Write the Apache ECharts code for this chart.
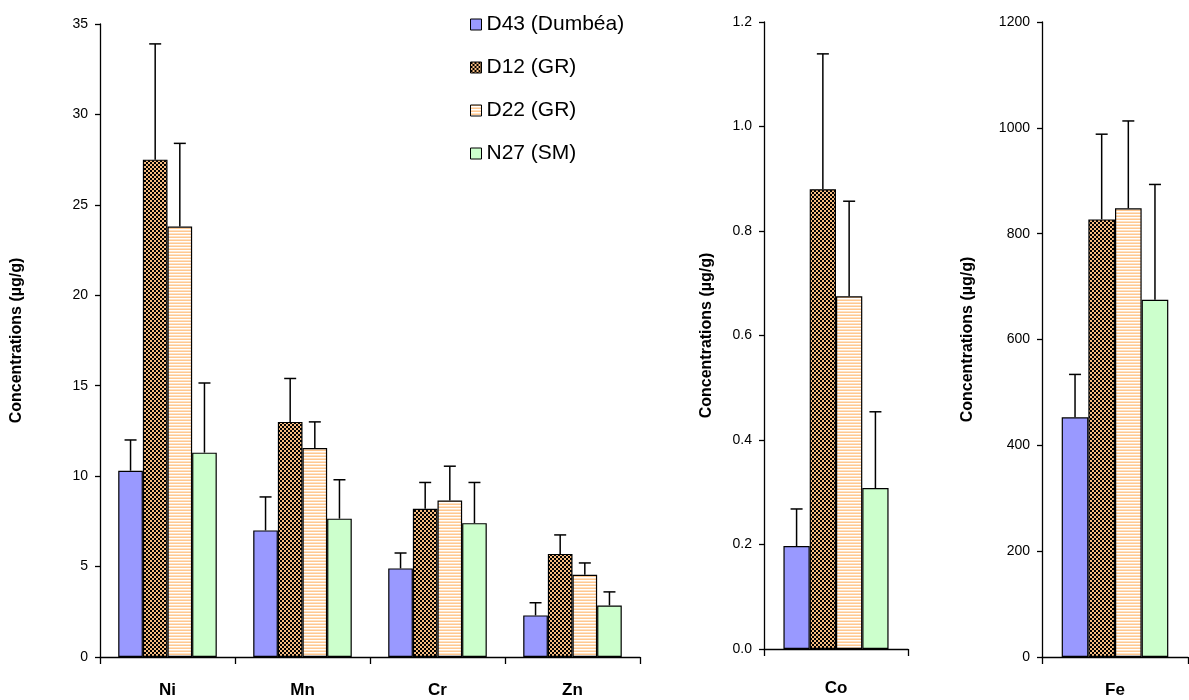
<!DOCTYPE html>
<html><head><meta charset="utf-8">
<script src="https://cdn.jsdelivr.net/npm/echarts@6/dist/echarts.min.js"></script>
<style>html,body{margin:0;padding:0;background:#fff}#c{width:1189px;height:700px}</style>
</head><body><div id="c"></div>
<script>
// ---- data ----
const elements = ['Ni', 'Mn', 'Cr', 'Zn', 'Co', 'Fe'];
const sampleNames = ['D43 (Dumbéa)', 'D12 (GR)', 'D22 (GR)', 'N27 (SM)'];
const d43 = [10.3, 7.0, 4.9, 2.3, 0.197, 453];
const d12 = [27.5, 13.0, 8.2, 5.7, 0.88, 827];
const d22 = [23.8, 11.55, 8.65, 4.55, 0.675, 848];
const n27 = [11.3, 7.65, 7.4, 2.85, 0.308, 675];
const d43Sd = [1.7, 1.85, 0.85, 0.7, 0.071, 81];
const d12Sd = [6.4, 2.4, 1.45, 1.05, 0.259, 161];
const d22Sd = [4.6, 1.45, 1.9, 0.65, 0.182, 165];
const n27Sd = [3.85, 2.15, 2.25, 0.75, 0.146, 218];
const mainAxis = [0, 35, 5];
const coAxis = [0, 1.2, 0.2];
const feAxis = [0, 1200, 200];
const yName = 'Concentrations (µg/g)';

// ---- styles ----
const FONT = '"Liberation Sans", Arial, sans-serif';
function checker() {
  const c = document.createElement('canvas'); c.width = 4; c.height = 4;
  const g = c.getContext('2d');
  g.fillStyle = '#F7BC80'; g.fillRect(0, 0, 4, 4);
  g.fillStyle = '#000'; g.fillRect(0, 0, 2, 2); g.fillRect(2, 2, 2, 2);
  return c;
}
function stripes() {
  const c = document.createElement('canvas'); c.width = 4; c.height = 3;
  const g = c.getContext('2d');
  g.fillStyle = '#FFC890'; g.fillRect(0, 0, 4, 1);
  g.fillStyle = '#FFFFFF'; g.fillRect(0, 1, 4, 1);
  g.fillStyle = '#FFE2C4'; g.fillRect(0, 2, 4, 1);
  return c;
}
const fills = [
  '#9999FF',
  { image: checker(), repeat: 'repeat' },
  { image: stripes(), repeat: 'repeat' },
  '#CCFFCC'
];
const values = [d43, d12, d22, n27];
const sds = [d43Sd, d12Sd, d22Sd, n27Sd];
const GAP = 0.27;

const groups = [
  { idx: [0, 1, 2, 3], grid: { left: 100, top: 24, width: 540, height: 633 }, axis: mainAxis, nameGap: 75, dec: 0, labelMargin: 25 },
  { idx: [4], grid: { left: 764, top: 22, width: 144, height: 627 }, axis: coAxis, nameGap: 49, dec: 1, labelMargin: 31 },
  { idx: [5], grid: { left: 1042, top: 22, width: 146, height: 635 }, axis: feAxis, nameGap: 66, dec: 0, labelMargin: 25 }
];

const grid = [], xAxis = [], yAxis = [], series = [];
groups.forEach((gr, gi) => {
  grid.push(gr.grid);
  xAxis.push({
    type: 'category', gridIndex: gi, data: gr.idx.map(i => elements[i]),
    axisLine: { lineStyle: { color: '#000', width: 1.3 } },
    axisTick: { show: true, length: 7, lineStyle: { color: '#000', width: 1.3 } },
    axisLabel: { color: '#000', fontFamily: FONT, fontWeight: 'bold', fontSize: 17, margin: gr.labelMargin }
  });
  yAxis.push({
    type: 'value', gridIndex: gi, min: gr.axis[0], max: gr.axis[1], interval: gr.axis[2],
    name: yName, nameLocation: 'middle', nameGap: gr.nameGap,
    nameTextStyle: { color: '#000', fontFamily: FONT, fontWeight: 'bold', fontSize: 16 },
    axisLine: { show: true, lineStyle: { color: '#000', width: 1.3 } },
    axisTick: { show: true, length: 5, lineStyle: { color: '#000', width: 1.3 } },
    splitLine: { show: false },
    axisLabel: { color: '#000', fontFamily: FONT, fontSize: 14, margin: 12,
      formatter: v => v.toFixed(gr.dec) }
  });
  values.forEach((arr, s) => {
    series.push({
      type: 'bar', name: sampleNames[s], xAxisIndex: gi, yAxisIndex: gi,
      data: gr.idx.map(i => arr[i]),
      barGap: '0%', barCategoryGap: (GAP * 100) + '%',
      itemStyle: { color: fills[s], borderColor: '#000', borderWidth: 1.2 },
      emphasis: { disabled: true }, z: 2
    });
  });
  const errData = [];
  gr.idx.forEach((i, c) => values.forEach((arr, s) => errData.push([c, s, arr[i], sds[s][i]])));
  series.push({
    type: 'custom', name: 'err' + gi, xAxisIndex: gi, yAxisIndex: gi, z: 5,
    encode: { x: 0, y: 2 }, data: errData, silent: true,
    renderItem: (params, api) => {
      const c = api.value(0), s = api.value(1), m = api.value(2), sd = api.value(3);
      const base = api.coord([c, m]);
      const top = api.coord([c, m + sd]);
      const band = api.size([1, 0])[0];
      const bw = band * (1 - GAP) / 4;
      const x = base[0] + (s - 1.5) * bw;
      const st = { stroke: '#000', lineWidth: 1.5 };
      return { type: 'group', children: [
        { type: 'line', shape: { x1: x, y1: base[1], x2: x, y2: top[1] }, style: st },
        { type: 'line', shape: { x1: x - 6, y1: top[1], x2: x + 6, y2: top[1] }, style: st }
      ] };
    }
  });
});

const chart = echarts.init(document.getElementById('c'), null, { renderer: 'canvas' });
chart.setOption({
  animation: false,
  backgroundColor: '#fff',
  legend: {
    data: sampleNames, orient: 'vertical', left: 465, top: 9,
    icon: 'rect', itemWidth: 11, itemHeight: 11, itemGap: 22,
    itemStyle: { borderColor: '#000', borderWidth: 1 },
    textStyle: { color: '#000', fontFamily: FONT, fontSize: 21, lineHeight: 21 },
    selectedMode: false
  },
  grid, xAxis, yAxis, series
});
</script>
</body></html>
